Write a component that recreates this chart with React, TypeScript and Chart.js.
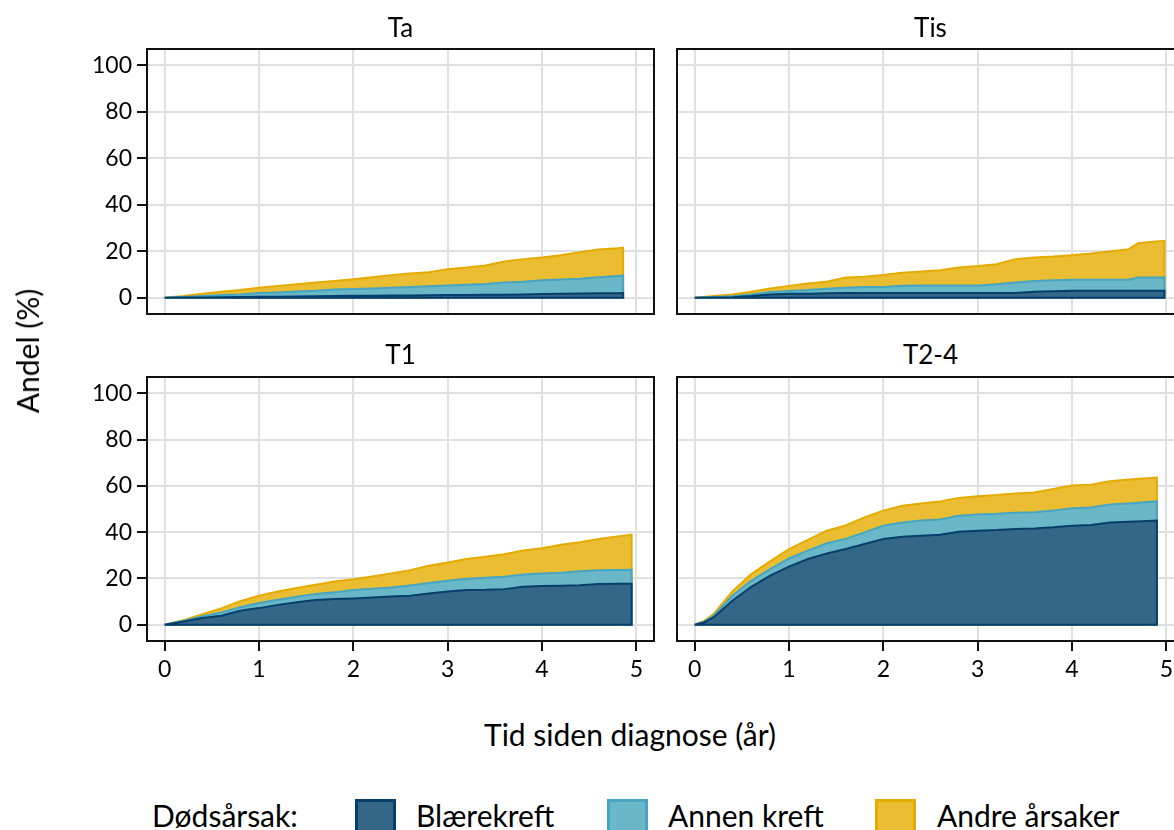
import React, { useEffect, useRef } from 'react';
import { Chart, registerables } from 'chart.js';

Chart.register(...registerables);

// Tid siden diagnose (år) for hvert estimat, og kumulativ andel døde (%) per dødsårsak
const tidTa = [0, 0.2, 0.4, 0.6, 0.8, 1.0, 1.2, 1.4, 1.6, 1.8, 2.0, 2.2, 2.4, 2.6, 2.8, 3.0, 3.2, 3.4, 3.6, 3.8, 4.0, 4.2, 4.4, 4.6, 4.8, 4.86];
const taBlaere = [0, 0.05, 0.15, 0.2, 0.3, 0.4, 0.45, 0.5, 0.6, 0.7, 0.9, 0.9, 1.0, 1.0, 1.1, 1.2, 1.2, 1.3, 1.3, 1.4, 1.6, 1.7, 1.8, 1.9, 1.9, 2.0];
const taAnnen = [0, 0.25, 0.55, 1.0, 1.1, 1.6, 1.85, 2.2, 2.4, 2.8, 2.9, 3.1, 3.3, 3.6, 3.8, 4.1, 4.4, 4.6, 5.2, 5.5, 5.9, 6.1, 6.4, 6.9, 7.4, 7.6];
const taAndre = [0, 0.4, 1.0, 1.4, 1.9, 2.3, 2.8, 3.1, 3.5, 3.7, 4.1, 4.8, 5.4, 5.8, 6.1, 7.0, 7.4, 8.0, 9.1, 9.7, 9.8, 10.5, 11.4, 12.0, 12.0, 12.0];

const tidTis = [0, 0.2, 0.4, 0.6, 0.8, 1.0, 1.2, 1.4, 1.6, 1.8, 2.0, 2.2, 2.4, 2.6, 2.8, 3.0, 3.2, 3.4, 3.6, 3.8, 4.0, 4.2, 4.4, 4.6, 4.7, 4.8, 4.98];
const tisBlaere = [0, 0.15, 0.2, 0.7, 1.4, 1.7, 1.7, 1.9, 2.0, 2.0, 2.0, 2.0, 2.0, 2.0, 2.0, 2.0, 2.0, 2.0, 2.6, 2.8, 3.0, 3.0, 3.0, 3.0, 3.0, 3.0, 3.0];
const tisAnnen = [0, 0.15, 0.4, 0.7, 1.1, 1.2, 1.6, 2.0, 2.3, 2.6, 2.6, 3.1, 3.3, 3.3, 3.3, 3.3, 3.8, 4.5, 4.6, 4.7, 4.7, 4.7, 4.7, 4.7, 5.7, 5.7, 5.7];
const tisAndre = [0, 0.4, 0.8, 1.2, 1.5, 2.2, 2.8, 3.0, 4.4, 4.4, 5.2, 5.7, 6.0, 6.5, 7.7, 8.3, 8.6, 10.1, 10.1, 10.2, 10.6, 11.3, 12.2, 13.2, 14.7, 15.2, 15.8];

const tidT1 = [0, 0.2, 0.4, 0.6, 0.8, 1.0, 1.2, 1.4, 1.6, 1.8, 2.0, 2.2, 2.4, 2.6, 2.8, 3.0, 3.2, 3.4, 3.6, 3.8, 4.0, 4.2, 4.4, 4.6, 4.8, 4.95];
const t1Blaere = [0, 1.4, 2.9, 3.9, 6.1, 7.2, 8.6, 9.7, 10.7, 11.1, 11.4, 11.8, 12.2, 12.5, 13.5, 14.4, 15.0, 15.1, 15.4, 16.4, 16.7, 16.9, 17.1, 17.6, 17.7, 17.7];
const t1Annen = [0, 0.3, 0.8, 1.4, 1.5, 2.2, 2.2, 2.4, 2.6, 2.9, 3.6, 3.8, 3.9, 4.5, 4.5, 4.6, 4.9, 5.2, 5.3, 5.3, 5.5, 5.6, 6.0, 6.0, 6.0, 6.1];
const t1Andre = [0, 0.3, 0.9, 1.8, 2.6, 3.1, 3.6, 3.8, 4.0, 4.7, 4.7, 5.3, 6.1, 6.6, 7.5, 7.9, 8.5, 9.1, 9.8, 10.4, 10.9, 12.1, 12.5, 13.4, 14.4, 15.1];

const tidT24 = [0, 0.1, 0.2, 0.4, 0.6, 0.8, 1.0, 1.2, 1.4, 1.6, 1.8, 2.0, 2.2, 2.4, 2.6, 2.8, 3.0, 3.2, 3.4, 3.6, 3.8, 4.0, 4.2, 4.4, 4.6, 4.8, 4.9];
const t24Blaere = [0, 1.0, 3.2, 10.4, 16.4, 21.2, 25.1, 28.4, 30.8, 32.7, 34.9, 37.0, 38.0, 38.5, 38.9, 40.2, 40.6, 40.9, 41.4, 41.6, 42.1, 42.8, 43.1, 44.2, 44.5, 44.8, 45.0];
const t24Annen = [0, 0.3, 0.7, 2.1, 2.6, 2.8, 3.6, 3.6, 4.4, 4.4, 5.0, 5.8, 6.2, 6.5, 6.6, 6.9, 7.0, 7.0, 7.0, 7.0, 7.2, 7.5, 7.6, 7.7, 7.9, 8.2, 8.3];
const t24Andre = [0, 0.4, 0.7, 1.9, 2.9, 3.4, 4.0, 4.7, 5.4, 5.8, 6.5, 6.5, 7.2, 7.4, 7.7, 7.7, 7.9, 8.1, 8.3, 8.5, 9.3, 9.8, 9.8, 10.1, 10.3, 10.3, 10.3];

const aarsaker = ['Blærekreft', 'Annen kreft', 'Andre årsaker'];
const fyllFarger = ['#346687', '#6ab7c8', '#ebbd33'];
const kantFarger = ['#063f6b', '#46a6bf', '#e5ab00'];

const xTicks = [0, 1, 2, 3, 4, 5];
const yTicks = [0, 20, 40, 60, 80, 100];

const FONT = 'Lato, "Open Sans", sans-serif';

// Black frame around each panel's plotting area
const framePlugin = {
  id: 'panelFrame',
  afterDraw(chart: any) {
    const { ctx, chartArea } = chart;
    ctx.save();
    ctx.strokeStyle = '#111';
    ctx.lineWidth = 2;
    ctx.strokeRect(chartArea.left, chartArea.top, chartArea.right - chartArea.left, chartArea.bottom - chartArea.top);
    ctx.restore();
  },
};

type PanelProps = {
  tid: number[];
  serier: number[][];
  left: number;
  top: number;
  width: number;
  height: number;
  yAxisW: number;
  xAxisH: number;
  padTop: number;
  padRight: number;
  showY: boolean;
  showX: boolean;
};

function Panel(p: PanelProps) {
  const ref = useRef<HTMLCanvasElement | null>(null);

  useEffect(() => {
    if (!ref.current) return;
    // cumulative tops: Blærekreft, + Annen kreft, + Andre årsaker
    const topper: number[][] = [];
    let sum = p.tid.map(() => 0);
    p.serier.forEach((s) => {
      sum = sum.map((v, i) => v + s[i]);
      topper.push(sum);
    });
    const last = p.tid.length - 1;
    const polygon = (tops: number[]) => [
      ...p.tid.map((t, i) => ({ x: t, y: tops[i] })),
      { x: p.tid[last], y: 0 },
      { x: p.tid[0], y: 0 },
    ];

    const noLabelPadding = (s: any) => {
      s.paddingTop = 0;
      s.paddingBottom = 0;
      s.paddingLeft = 0;
      s.paddingRight = 0;
    };

    const chart = new Chart(ref.current, {
      type: 'line',
      data: {
        datasets: topper.map((tops, k) => ({
          label: aarsaker[k],
          data: polygon(tops),
          backgroundColor: fyllFarger[k],
          borderColor: kantFarger[k],
          borderWidth: 2,
          fill: 'shape',
          pointRadius: 0,
          tension: 0,
        })),
      },
      options: {
        animation: false,
        responsive: false,
        events: [],
        layout: { padding: { top: p.padTop, right: p.padRight, left: 0, bottom: 0 } },
        plugins: { legend: { display: false }, tooltip: { enabled: false } },
        scales: {
          x: {
            type: 'linear',
            min: -0.187,
            max: 5.187,
            afterBuildTicks: (s: any) => {
              s.ticks = xTicks.map((v) => ({ value: v }));
            },
            afterFit: (s: any) => {
              s.height = p.xAxisH;
              noLabelPadding(s);
            },
            grid: {
              color: '#e0e0e0',
              lineWidth: 2,
              drawTicks: p.showX,
              tickLength: 10,
              tickColor: '#111',
              tickWidth: 2,
            },
            border: { display: false },
            ticks: {
              display: p.showX,
              autoSkip: false,
              maxRotation: 0,
              padding: 5,
              color: '#000',
              font: { family: FONT, size: 23 },
            },
          },
          y: {
            type: 'linear',
            min: -7,
            max: 107,
            afterBuildTicks: (s: any) => {
              s.ticks = yTicks.map((v) => ({ value: v }));
            },
            afterFit: (s: any) => {
              s.width = p.yAxisW;
              noLabelPadding(s);
            },
            grid: {
              color: '#e0e0e0',
              lineWidth: 2,
              drawTicks: p.showY,
              tickLength: 10,
              tickColor: '#111',
              tickWidth: 2,
            },
            border: { display: false },
            ticks: {
              display: p.showY,
              padding: 5,
              color: '#000',
              font: { family: FONT, size: 23 },
            },
          },
        },
      },
      plugins: [framePlugin],
    } as any);
    return () => chart.destroy();
  }, []);

  return (
    <canvas
      ref={ref}
      width={p.width}
      height={p.height}
      style={{ position: 'absolute', left: p.left, top: p.top, width: p.width, height: p.height, display: 'block' }}
    />
  );
}

const textBase: React.CSSProperties = {
  position: 'absolute',
  lineHeight: 1,
  whiteSpace: 'nowrap',
  color: '#000',
  fontFamily: FONT,
};

function Centered({ x, y, size, children }: { x: number; y: number; size: number; children: React.ReactNode }) {
  return (
    <div style={{ ...textBase, left: x, top: y, fontSize: size, transform: 'translate(-50%, -50%)' }}>{children}</div>
  );
}

function LeftText({ x, y, size, children }: { x: number; y: number; size: number; children: React.ReactNode }) {
  return <div style={{ ...textBase, left: x, top: y, fontSize: size, transform: 'translateY(-50%)' }}>{children}</div>;
}

export default function App() {
  const top = { top: 40, height: 280, padTop: 9, xAxisH: 6, showX: false };
  const bottom = { top: 370, height: 330, padTop: 7, xAxisH: 59, showX: true };
  const leftCol = { left: 20, width: 645, yAxisW: 127, padRight: 11, showY: true };
  const rightCol = { left: 670, width: 525, yAxisW: 7, padRight: 11, showY: false };

  const legendBoxes = [355, 607, 875];
  const legendTexts = [416, 668, 937];

  return (
    <div
      style={{
        position: 'fixed',
        left: 0,
        top: 0,
        width: 1174,
        height: 830,
        overflow: 'hidden',
        background: '#fff',
        fontFamily: FONT,
      }}
    >
      <Panel tid={tidTa} serier={[taBlaere, taAnnen, taAndre]} {...top} {...leftCol} />
      <Panel tid={tidTis} serier={[tisBlaere, tisAnnen, tisAndre]} {...top} {...rightCol} />
      <Panel tid={tidT1} serier={[t1Blaere, t1Annen, t1Andre]} {...bottom} {...leftCol} />
      <Panel tid={tidT24} serier={[t24Blaere, t24Annen, t24Andre]} {...bottom} {...rightCol} />

      <Centered x={400.5} y={27} size={26}>Ta</Centered>
      <Centered x={930.5} y={27} size={26}>Tis</Centered>
      <Centered x={400.5} y={354} size={26}>T1</Centered>
      <Centered x={930.5} y={354} size={26}>T2-4</Centered>

      <div
        style={{
          ...textBase,
          left: 27,
          top: 351,
          fontSize: 30,
          transform: 'translate(-50%, -50%) rotate(-90deg)',
        }}
      >
        Andel (%)
      </div>
      <Centered x={630} y={734} size={30}>Tid siden diagnose (år)</Centered>

      <LeftText x={152} y={815} size={30}>Dødsårsak:</LeftText>
      {aarsaker.map((navn, k) => (
        <React.Fragment key={navn}>
          <div
            style={{
              position: 'absolute',
              left: legendBoxes[k],
              top: 799,
              width: 41,
              height: 41,
              boxSizing: 'border-box',
              background: fyllFarger[k],
              border: `3px solid ${kantFarger[k]}`,
            }}
          />
          <LeftText x={legendTexts[k]} y={815} size={30}>
            {navn}
          </LeftText>
        </React.Fragment>
      ))}
    </div>
  );
}
